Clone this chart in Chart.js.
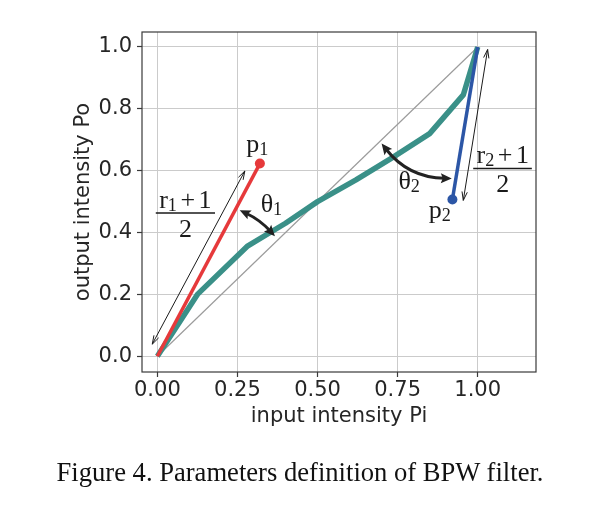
<!DOCTYPE html>
<html>
<head>
<meta charset="utf-8">
<script src="https://cdn.jsdelivr.net/npm/chart.js@4"></script>
<style>
  html, body { margin: 0; padding: 0; background: #fff; }
  #wrap { position: relative; width: 600px; height: 519px; }
  #chart { position: absolute; left: 0; top: 0; }
  #caption {
    position: absolute; left: 0; top: 457px; width: 600px;
    text-align: center; font-family: "Liberation Serif", serif;
    font-size: 26.6px; line-height: 30px; color: #111;
  }
</style>
</head>
<body>
<div id="wrap">
  <canvas id="chart" width="600" height="519"></canvas>
  <div id="caption">Figure 4. Parameters definition of BPW filter.</div>
</div>
<script>
// BPW transfer curve (teal)
const curveX = [0, 0.125, 0.28, 0.40, 0.50, 0.62, 0.73, 0.85, 0.955, 1.0];
const curveY = [0, 0.20, 0.355, 0.43, 0.50, 0.57, 0.64, 0.72, 0.845, 1.0];
// identity line
const diagX = [0, 1];
const diagY = [0, 1];
// control segments to p1 and p2
const redX = [0, 0.32];
const redY = [0, 0.623];
const blueX = [1, 0.921];
const blueY = [1, 0.507];

const xTicks = [0, 0.25, 0.5, 0.75, 1.0];
const yTicks = [0, 0.2, 0.4, 0.6, 0.8, 1.0];

// annotation anchors, data coords
const lenArrow1 = [[-0.016, 0.039], [0.273, 0.599]];
const lenArrow2 = [[1.031, 0.992], [0.955, 0.504]];
const thetaArrow1 = [[0.257, 0.472], [0.367, 0.388]];
const thetaArrow2 = [[0.70, 0.688], [0.919, 0.575]];
const p1Label = [0.312, 0.66];
const p2Label = [0.882, 0.448];
const theta1Label = [0.356, 0.4665];
const theta2Label = [0.786, 0.542];
const frac1 = { x: 0.0875, num: 0.478, bar: 0.463, den: 0.386, x0: -0.005, x1: 0.18 };
const frac2 = { x: 1.078, num: 0.624, bar: 0.607, den: 0.531, x0: 0.986, x1: 1.169 };

const toPts = (xs, ys) => xs.map((x, i) => ({ x, y: ys[i] }));

const SERIF = '"Liberation Serif", serif';
const TXT = "#1a1a1a";

function drawParts(ctx, parts, cx, baseY, size) {
  // measure first so the whole label is centred on cx
  let w = 0;
  parts.forEach(p => {
    if (p.gap) { w += p.gap; return; }
    ctx.font = `${p.sub ? size * 0.7 : size}px ${SERIF}`;
    p.w = ctx.measureText(p.t).width;
    w += p.w;
  });
  let x = cx - w / 2;
  ctx.textAlign = "left";
  ctx.textBaseline = "alphabetic";
  ctx.fillStyle = TXT;
  parts.forEach(p => {
    if (p.gap) { x += p.gap; return; }
    ctx.font = `${p.sub ? size * 0.7 : size}px ${SERIF}`;
    ctx.fillText(p.t, x, baseY + (p.sub ? 3 : 0));
    x += p.w;
  });
}

function openHead(ctx, tip, from, len, half) {
  const a = Math.atan2(tip.y - from.y, tip.x - from.x);
  ctx.beginPath();
  ctx.moveTo(tip.x - len * Math.cos(a - half), tip.y - len * Math.sin(a - half));
  ctx.lineTo(tip.x, tip.y);
  ctx.lineTo(tip.x - len * Math.cos(a + half), tip.y - len * Math.sin(a + half));
  ctx.stroke();
}

function fillHead(ctx, tip, from, len, half) {
  const a = Math.atan2(tip.y - from.y, tip.x - from.x);
  ctx.beginPath();
  ctx.moveTo(tip.x, tip.y);
  ctx.lineTo(tip.x - len * Math.cos(a - half), tip.y - len * Math.sin(a - half));
  ctx.lineTo(tip.x - len * 0.75 * Math.cos(a), tip.y - len * 0.75 * Math.sin(a));
  ctx.lineTo(tip.x - len * Math.cos(a + half), tip.y - len * Math.sin(a + half));
  ctx.closePath();
  ctx.fill();
}

const annotations = {
  id: "annotations",
  afterDatasetsDraw(chart) {
    const { ctx, scales: { x, y } } = chart;
    const px = p => ({ x: x.getPixelForValue(p[0]), y: y.getPixelForValue(p[1]) });
    ctx.save();

    // thin double arrows (lengths)
    ctx.strokeStyle = TXT;
    ctx.lineWidth = 1;
    [lenArrow1, lenArrow2].forEach(arr => {
      const a = px(arr[0]), b = px(arr[1]);
      ctx.beginPath(); ctx.moveTo(a.x, a.y); ctx.lineTo(b.x, b.y); ctx.stroke();
      openHead(ctx, a, b, 9, 0.3);
      openHead(ctx, b, a, 9, 0.3);
    });

    // thick curved angle arrows
    ctx.strokeStyle = "#222";
    ctx.fillStyle = "#222";
    ctx.lineWidth = 3;
    [[thetaArrow1, 0.1], [thetaArrow2, -0.24]].forEach(([arr, rad]) => {
      const a = px(arr[0]), b = px(arr[1]);
      const c = { x: (a.x + b.x) / 2 + rad * (b.y - a.y), y: (a.y + b.y) / 2 - rad * (b.x - a.x) };
      // pull the ends back so the heads sit on the tips
      const back = 7;
      const da = Math.hypot(c.x - a.x, c.y - a.y), db = Math.hypot(c.x - b.x, c.y - b.y);
      const a2 = { x: a.x + (c.x - a.x) / da * back, y: a.y + (c.y - a.y) / da * back };
      const b2 = { x: b.x + (c.x - b.x) / db * back, y: b.y + (c.y - b.y) / db * back };
      ctx.beginPath(); ctx.moveTo(a2.x, a2.y); ctx.quadraticCurveTo(c.x, c.y, b2.x, b2.y); ctx.stroke();
      fillHead(ctx, a, c, 12, 0.42);
      fillHead(ctx, b, c, 12, 0.42);
    });

    // labels
    const size = 26;
    let p = px(p1Label);
    drawParts(ctx, [{ t: "p" }, { t: "1", sub: true }], p.x, p.y, size);
    p = px(p2Label);
    drawParts(ctx, [{ t: "p" }, { t: "2", sub: true }], p.x, p.y, size);
    p = px(theta1Label);
    drawParts(ctx, [{ t: "\u03b8" }, { t: "1", sub: true }], p.x, p.y, size);
    p = px(theta2Label);
    drawParts(ctx, [{ t: "\u03b8" }, { t: "2", sub: true }], p.x, p.y, size);

    [[frac1, "1"], [frac2, "2"]].forEach(([f, k]) => {
      const cx = x.getPixelForValue(f.x);
      drawParts(ctx, [{ t: "r" }, { t: k, sub: true }, { gap: 3.5 }, { t: "+" }, { gap: 3.5 }, { t: "1" }],
        cx, y.getPixelForValue(f.num), size);
      const by = y.getPixelForValue(f.bar);
      ctx.strokeStyle = TXT;
      ctx.lineWidth = 1.5;
      ctx.beginPath();
      ctx.moveTo(x.getPixelForValue(f.x0), by);
      ctx.lineTo(x.getPixelForValue(f.x1), by);
      ctx.stroke();
      drawParts(ctx, [{ t: "2" }], cx, y.getPixelForValue(f.den), size);
    });

    ctx.restore();
  },
  afterDraw(chart) {
    const { ctx, chartArea: a } = chart;
    ctx.save();
    ctx.strokeStyle = "#3a3a3a";
    ctx.lineWidth = 1.2;
    ctx.strokeRect(a.left, a.top, a.right - a.left, a.bottom - a.top);
    ctx.restore();
  }
};

const tickFont = { family: "DejaVu Sans", size: 21 };
const gridOpts = { color: "#cbcbcb", lineWidth: 1, tickLength: 5, tickColor: "#3a3a3a", tickWidth: 1.2 };

new Chart(document.getElementById("chart"), {
  type: "scatter",
  data: {
    datasets: [
      { label: "p1", data: toPts(redX, redY), borderColor: "#e6393b", backgroundColor: "#e6393b",
        borderWidth: 3.5, pointRadius: [0, 5], pointBorderWidth: 0, showLine: true, order: 1,
        borderCapStyle: "butt" },
      { label: "p2", data: toPts(blueX, blueY), borderColor: "#2c56a6", backgroundColor: "#2c56a6",
        borderWidth: 3.5, pointRadius: [0, 5], pointBorderWidth: 0, showLine: true, order: 2,
        borderCapStyle: "butt" },
      { label: "BPW", data: toPts(curveX, curveY), borderColor: "#3a9088", borderWidth: 5.5,
        pointRadius: 0, showLine: true, order: 3, borderJoinStyle: "round" },
      { label: "identity", data: toPts(diagX, diagY), borderColor: "#9c9c9c", borderWidth: 1.2,
        pointRadius: 0, showLine: true, order: 4 }
    ]
  },
  options: {
    responsive: false,
    animation: false,
    events: [],
    layout: { padding: { top: 32, right: 64, bottom: 87, left: 0 } },
    plugins: { legend: { display: false }, tooltip: { enabled: false } },
    scales: {
      x: {
        type: "linear",
        min: -0.048,
        max: 1.182,
        afterBuildTicks: s => { s.ticks = xTicks.map(v => ({ value: v })); },
        afterFit: s => { s.height = 60; },
        ticks: { font: tickFont, color: "#262626", padding: 1, maxRotation: 0,
                 callback: v => Number(v).toFixed(2) },
        grid: gridOpts,
        border: { display: false },
        title: { display: true, text: "input intensity Pi", font: tickFont, color: "#262626",
                 padding: { top: 0, bottom: 3 } }
      },
      y: {
        type: "linear",
        min: -0.051,
        max: 1.0485,
        afterBuildTicks: s => { s.ticks = yTicks.map(v => ({ value: v })); },
        afterFit: s => { s.width = 142; },
        ticks: { font: tickFont, color: "#262626", padding: 5,
                 callback: v => Number(v).toFixed(1) },
        grid: gridOpts,
        border: { display: false },
        title: { display: true, text: "output intensity Po", font: tickFont, color: "#262626",
                 padding: { top: 71.4, bottom: 0 } }
      }
    }
  },
  plugins: [annotations]
});
</script>
</body>
</html>
